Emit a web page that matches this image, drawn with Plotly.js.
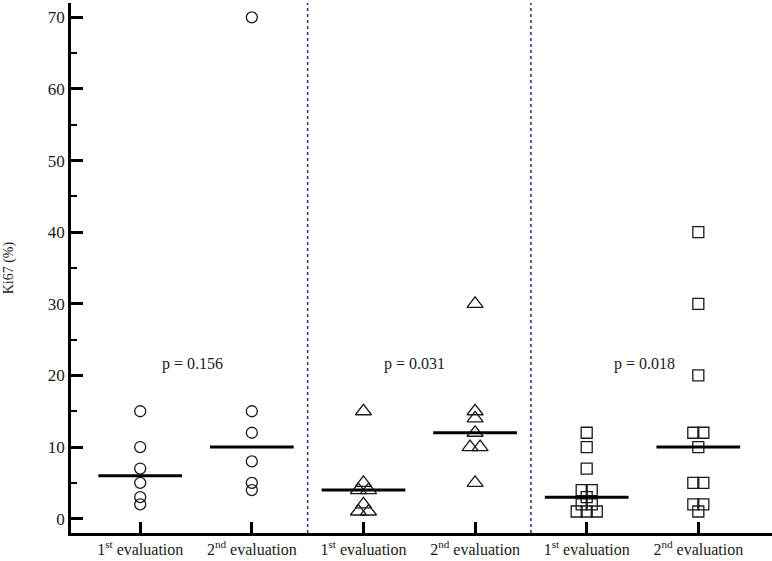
<!DOCTYPE html>
<html>
<head>
<meta charset="utf-8">
<script src="https://cdn.plot.ly/plotly-3.0.1.min.js"></script>
<style>
  html, body { margin: 0; padding: 0; background: #fff; }
  #chart { width: 772px; height: 561px; }
</style>
</head>
<body>
<div id="chart"></div>
<script>
// ── data ──
const tickLabels = [
  '1<sup>st</sup> evaluation', '2<sup>nd</sup> evaluation',
  '1<sup>st</sup> evaluation', '2<sup>nd</sup> evaluation',
  '1<sup>st</sup> evaluation', '2<sup>nd</sup> evaluation'
];
const circleFirst  = [15, 10, 7, 5, 3, 2];
const circleSecond = [70, 15, 12, 8, 5, 4];
const triFirst     = [15, 5, 4, 4, 2, 1, 1];
const triSecond    = [30, 15, 14, 12, 10, 10, 5];
const squareFirst  = [12, 10, 7, 4, 4, 3, 2, 2, 1, 1, 1];
const squareSecond = [40, 30, 20, 12, 12, 10, 5, 5, 2, 2, 1];
const medians      = [6, 10, 4, 12, 3, 10];
const pValues      = ['p = 0.156', 'p = 0.031', 'p = 0.018'];

const FONT = 'Liberation Serif';
const INK = '#1a1a1a';
const STEP = 0.09; // horizontal spread for tied values

// spread tied values side by side around the category centre
function spread(values, centre) {
  const counts = {}, seen = {};
  values.forEach(v => counts[v] = (counts[v] || 0) + 1);
  return values.map(v => {
    const k = seen[v] = (seen[v] || 0) + 1;
    return centre + (k - 1 - (counts[v] - 1) / 2) * STEP;
  });
}

const groups = [
  { vals: circleFirst,  sym: 'circle-open',      size: 11 },
  { vals: circleSecond, sym: 'circle-open',      size: 11 },
  { vals: triFirst,     sym: 'triangle-up-open', size: 14 },
  { vals: triSecond,    sym: 'triangle-up-open', size: 14 },
  { vals: squareFirst,  sym: 'square-open',      size: 11 },
  { vals: squareSecond, sym: 'square-open',      size: 11 }
];

const traces = [];
groups.forEach((g, i) => {
  traces.push({
    x: spread(g.vals, i), y: g.vals, type: 'scatter', mode: 'markers',
    marker: { symbol: g.sym, size: g.size, color: INK, line: { width: 1.3, color: INK } },
    hoverinfo: 'y', showlegend: false, cliponaxis: false
  });
});
medians.forEach((m, i) => {
  traces.push({
    x: [i - 0.375, i + 0.375], y: [m, m], type: 'scatter', mode: 'lines',
    line: { color: '#000', width: 3 }, hoverinfo: 'skip', showlegend: false
  });
});

// dotted separators between the three pairs
const shapes = [1, 2].map(k => ({
  type: 'line', xref: 'x', yref: 'paper',
  x0: 2 * k - 0.5, x1: 2 * k - 0.5, y0: 0, y1: 1,
  line: { color: '#2a2a8a', width: 1.5, dash: 'dot' }
}));

const pX = [0.47, 2.46, 4.52];
const annotations = pValues.map((t, i) => ({
  x: pX[i], y: 21.6, xref: 'x', yref: 'y', text: t, showarrow: false,
  font: { family: FONT, size: 16, color: INK }
}));
annotations.push({
  text: 'Ki67 (%)', xref: 'paper', yref: 'paper', x: -0.088, y: 0.5,
  textangle: -90, showarrow: false, xanchor: 'center', yanchor: 'middle',
  font: { family: FONT, size: 14, color: INK }
});

const layout = {
  width: 772, height: 561,
  margin: { l: 71, r: 0, t: 3, b: 28 },
  paper_bgcolor: '#fff', plot_bgcolor: '#fff',
  font: { family: FONT, size: 16, color: INK },
  showlegend: false,
  xaxis: {
    range: [-0.62, 5.66], tickmode: 'array',
    tickvals: tickLabels.map((_, i) => i), ticktext: tickLabels,
    ticks: 'inside', ticklen: 11, tickwidth: 2.5, tickcolor: '#000',
    showline: true, linecolor: '#000', linewidth: 2.5,
    showgrid: false, zeroline: false,
    tickfont: { family: FONT, size: 16, color: INK }
  },
  yaxis: {
    range: [-2, 72], tickmode: 'linear', tick0: 0, dtick: 10,
    ticks: 'inside', ticklen: 12, tickwidth: 2.5, tickcolor: '#000',
    minor: { dtick: 5, tick0: 0, ticks: 'inside', ticklen: 6, tickwidth: 1.8, tickcolor: '#000', showgrid: false },
    showline: true, linecolor: '#000', linewidth: 2.5,
    showgrid: false, zeroline: false,
    tickfont: { family: FONT, size: 17, color: INK }
  },
  shapes: shapes,
  annotations: annotations
};

Plotly.newPlot('chart', traces, layout, { displayModeBar: false });
</script>
</body>
</html>
